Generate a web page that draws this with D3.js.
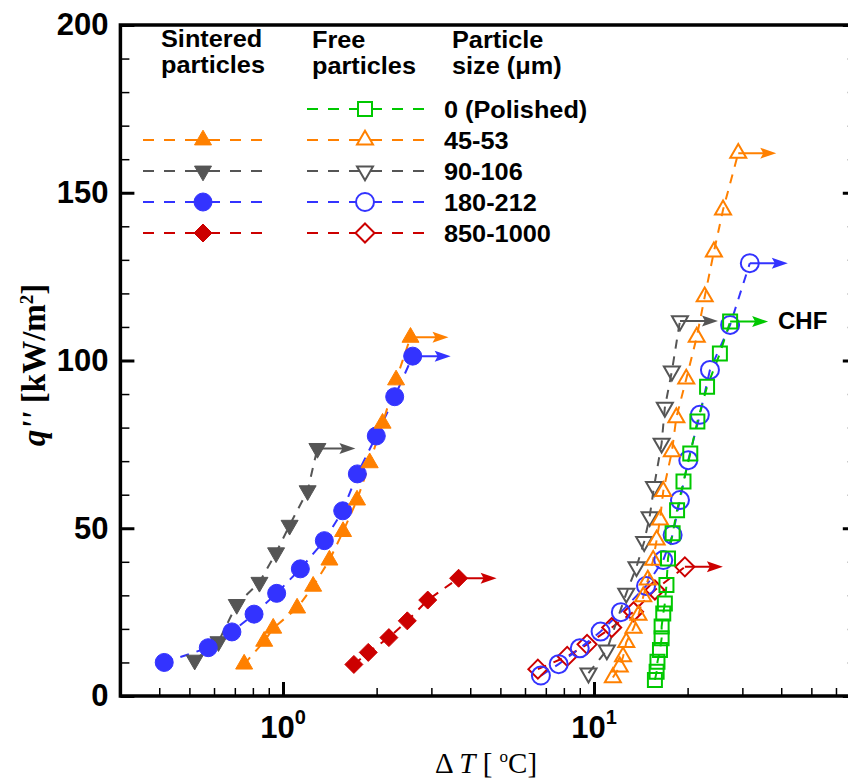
<!DOCTYPE html>
<html><head><meta charset="utf-8">
<script src="https://cdn.jsdelivr.net/npm/d3@7"></script>
<style>body{margin:0;background:#fff}</style>
</head><body>
<svg id="c" width="848" height="782"></svg>
<script>
// ---------- DATA ----------
const sizeLabels = ["0 (Polished)", "45-53", "90-106", "180-212", "850-1000"];
const yTicks = [0, 50, 100, 150, 200];
const xMajorTicks = [1, 10];

// Sintered particles (filled symbols): [ΔT (°C), q'' (kW/m²)]
const sinteredOrange = [[0.75,9.5],[0.87,16.3],[0.93,20.2],[1.11,26.2],[1.25,32.7],[1.41,40.5],[1.56,49.0],[1.73,58.4],[1.90,69.5],[2.09,81.3],[2.31,94.2],[2.57,106.9]];
const sinteredGray   = [[0.52,10.7],[0.62,16.2],[0.71,27.3],[0.84,33.9],[0.95,42.7],[1.05,50.9],[1.20,61.2],[1.29,73.8]];
const sinteredBlue   = [[0.415,10.0],[0.575,14.4],[0.685,19.1],[0.807,24.4],[0.954,30.6],[1.137,37.9],[1.358,46.3],[1.556,55.2],[1.734,66.2],[1.995,77.5],[2.286,89.2],[2.612,101.3]];
const sinteredRed    = [[1.69,9.4],[1.88,13.0],[2.19,17.4],[2.51,22.4],[2.92,28.6],[3.67,35.1]];

// Free particles (open symbols)
const freeGreen  = [[15.7,4.8],[15.9,7.2],[16.0,10.2],[16.3,13.7],[16.5,17.2],[16.5,20.7],[16.7,24.6],[16.9,27.6],[17.1,33.1],[17.3,41.0],[17.9,48.5],[18.5,55.4],[19.4,63.9],[20.4,72.3],[21.5,81.8],[23.1,92.2],[25.4,102.1],[27.4,111.6]];
const freeOrange = [[11.5,5.5],[12.1,8.7],[12.4,11.7],[12.7,16.0],[13.4,20.2],[13.9,24.1],[14.4,29.6],[14.9,34.6],[15.5,40.5],[15.9,46.5],[16.3,52.5],[16.7,61.0],[17.8,72.8],[18.4,83.0],[19.8,94.5],[21.4,107.0],[22.7,119.0],[24.3,132.4],[26.0,144.9],[29.1,161.8]];
const freeGray   = [[9.6,6.8],[11.0,13.7],[12.7,30.6],[13.7,38.5],[14.5,46.0],[15.1,53.4],[15.6,62.4],[16.5,75.3],[16.9,86.0],[17.8,96.8],[18.9,111.8]];
const freeBlue   = [[6.75,6.1],[7.7,9.5],[9.0,14.2],[10.5,19.2],[12.2,25.0],[14.7,32.8],[16.7,40.5],[17.9,48.0],[18.9,58.4],[20.1,70.3],[21.9,83.8],[23.6,97.2],[27.4,110.6],[31.7,129.0]];
const freeRed    = [[6.6,8.0],[8.2,11.8],[9.5,15.4],[11.4,20.4],[13.4,25.1],[15.7,31.6],[19.6,38.5]];

// ---------- STYLE ----------
const C = {orange:"#ff8000", gray:"#555555", blue:"#3333ff", red:"#cc0000", green:"#00c800"};
const series = [
  {data: sinteredGray,   color: C.gray,   shape: "tdown", filled: true},
  {data: sinteredBlue,   color: C.blue,   shape: "circle", filled: true},
  {data: sinteredOrange, color: C.orange, shape: "tup",   filled: true},
  {data: sinteredRed,    color: C.red,    shape: "diamond", filled: true},
  {data: freeRed,        color: C.red,    shape: "diamond", filled: false},
  {data: freeBlue,       color: C.blue,   shape: "circle", filled: false},
  {data: freeGray,       color: C.gray,   shape: "tdown", filled: false},
  {data: freeOrange,     color: C.orange, shape: "tup",   filled: false},
  {data: freeGreen,      color: C.green,  shape: "square", filled: false}
];

const svg = d3.select("#c");
const x = d3.scaleLog().domain([0.3, 70]).range([120.4, 856.8]);
const y = d3.scaleLinear().domain([0, 200]).range([696, 25]);

function symbolPath(shape, filled) {
  switch (shape) {
    case "circle": { const r = 9; return `M${r},0A${r},${r},0,1,1,${-r},0A${r},${r},0,1,1,${r},0Z`; }
    case "tup":   { const s = filled ? 17 : 16, h = s*Math.sqrt(3)/2; return `M0,${-2*h/3}L${s/2},${h/3}L${-s/2},${h/3}Z`; }
    case "tdown": { const s = filled ? 17 : 16, h = s*Math.sqrt(3)/2; return `M0,${2*h/3}L${s/2},${-h/3}L${-s/2},${-h/3}Z`; }
    case "diamond": { const r = filled ? 9 : 9.5; return `M0,${-r}L${r},0L0,${r}L${-r},0Z`; }
    case "square": { const r = 7; return `M${-r},${-r}H${r}V${r}H${-r}Z`; }
  }
}

// ---------- AXES ----------
const axG = svg.append("g");
const minorX = [];
[0.1, 1, 10].forEach(dec => { for (let k = 2; k <= 9; k++) { const v = k*dec; if (v >= 0.3 && v <= 70 && v !== 1 && v !== 10) minorX.push(+v.toFixed(3)); } });
const minorY = d3.range(0, 201, 10).filter(v => v % 50 !== 0);

function styleAxis(g, w) { g.select(".domain").remove(); g.selectAll(".tick line").attr("stroke", "#000").attr("stroke-width", w); }

axG.append("g").attr("transform", `translate(0,${y(0)})`)
  .call(d3.axisBottom(x).tickValues(minorX).tickSize(-8).tickFormat(""))
  .call(g => styleAxis(g, 1.5));
axG.append("g").attr("transform", `translate(0,${y(0)})`)
  .call(d3.axisBottom(x).tickValues(xMajorTicks).tickSize(-14).tickFormat(""))
  .call(g => styleAxis(g, 3));
axG.append("g").attr("transform", `translate(${x(0.3)},0)`)
  .call(d3.axisLeft(y).tickValues(minorY).tickSize(-9).tickFormat(""))
  .call(g => styleAxis(g, 1.5));
const yMaj = axG.append("g").attr("transform", `translate(${x(0.3)},0)`)
  .call(d3.axisLeft(y).tickValues(yTicks).tickSize(-14).tickPadding(12))
  .call(g => styleAxis(g, 3));
yMaj.selectAll("text").attr("font-family", "Liberation Sans, Arial, sans-serif")
  .attr("font-weight", "bold").attr("font-size", 31).attr("fill", "#000");
axG.append("g").attr("transform", `translate(${x(70)},0)`)
  .call(d3.axisRight(y).tickValues(minorY).tickSize(-9).tickFormat(""))
  .call(g => styleAxis(g, 1.5));
axG.append("g").attr("transform", `translate(${x(70)},0)`)
  .call(d3.axisRight(y).tickValues(yTicks).tickSize(-14).tickFormat(""))
  .call(g => styleAxis(g, 3));

// frame
svg.append("path").attr("d", `M${x(0.3)},${y(200)}V${y(0)}H${x(70)}V${y(200)}Z`)
  .attr("fill", "none").attr("stroke", "#000").attr("stroke-width", 3.5);

// x tick labels with superscripts
xMajorTicks.forEach(v => {
  const t = svg.append("text").attr("x", x(v)).attr("y", 738).attr("text-anchor", "middle")
    .attr("font-family", "Liberation Sans, Arial, sans-serif").attr("font-weight", "bold").attr("font-size", 31);
  t.append("tspan").text("10");
  t.append("tspan").attr("dy", -14).attr("font-size", 20).text(Math.round(Math.log10(v)));
});

// axis titles
const xt = svg.append("text").attr("x", 486).attr("y", 773).attr("text-anchor", "middle")
  .attr("font-family", "Liberation Serif, Times New Roman, serif").attr("font-size", 29);
xt.append("tspan").text("Δ ");
xt.append("tspan").attr("font-style", "italic").text("T");
xt.append("tspan").text(" [ ");
xt.append("tspan").attr("dy", -11).attr("font-size", 17).text("o");
xt.append("tspan").attr("dy", 11).text("C]");

const yt = svg.append("text").attr("transform", "translate(45,365) rotate(-90)").attr("text-anchor", "middle")
  .attr("font-family", "Liberation Serif, Times New Roman, serif").attr("font-weight", "bold").attr("font-size", 33);
yt.append("tspan").attr("font-style", "italic").text("q''");
yt.append("tspan").text(" [kW/m");
yt.append("tspan").attr("dy", -12).attr("font-size", 19).text("2");
yt.append("tspan").attr("dy", 12).text("]");

// ---------- SERIES ----------
const line = d3.line().x(d => x(d[0])).y(d => y(d[1]));
const plot = svg.append("g");
const ARROW = 38;
series.forEach(s => {
  plot.append("path").attr("d", line(s.data)).attr("fill", "none").attr("stroke", s.color)
    .attr("stroke-width", 2).attr("stroke-dasharray", "9,8");
});
series.forEach(s => {
  const last = s.data[s.data.length - 1];
  const x0 = x(last[0]), y0 = y(last[1]), x1 = x0 + ARROW;
  plot.append("line").attr("x1", x0).attr("y1", y0).attr("x2", x1 - 6).attr("y2", y0)
    .attr("stroke", s.color).attr("stroke-width", 2);
  plot.append("path").attr("d", `M${x1},${y0}L${x1-16},${y0-5.5}L${x1-13},${y0}L${x1-16},${y0+5.5}Z`)
    .attr("fill", s.color);
  plot.selectAll(null).data(s.data).join("path")
    .attr("transform", d => `translate(${x(d[0])},${y(d[1])})`)
    .attr("d", symbolPath(s.shape, s.filled))
    .attr("fill", s.filled ? s.color : "none")
    .attr("stroke", s.color).attr("stroke-width", s.filled ? 1 : 2);
});

svg.append("text").attr("x", 778).attr("y", 329).attr("font-family", "Liberation Sans, Arial, sans-serif")
  .attr("font-weight", "bold").attr("font-size", 24).text("CHF");

// ---------- LEGEND ----------
function txt(xp, yp, s) {
  return svg.append("text").attr("transform", `translate(${xp},${yp}) scale(1.1,1)`)
    .attr("font-family", "Liberation Sans, Arial, sans-serif").attr("font-weight", "bold")
    .attr("font-size", 23).text(s);
}
txt(161, 47, "Sintered"); txt(161, 73, "particles");
txt(312, 48, "Free"); txt(312, 74, "particles");
txt(452, 48, "Particle"); txt(452, 74, "size (μm)");

const rowY = [109, 140, 171, 202, 233];
const legSintered = [null, series[2], series[0], series[1], series[3]];
const legFree = [series[8], series[7], series[6], series[5], series[4]];
function legendEntry(s, cx, x0, x1, ry) {
  const g = svg.append("g");
  g.append("line").attr("x1", x0).attr("x2", cx - 16).attr("y1", ry).attr("y2", ry)
    .attr("stroke", s.color).attr("stroke-width", 2).attr("stroke-dasharray", "11,10");
  g.append("line").attr("x1", cx - 16).attr("x2", cx + 16).attr("y1", ry).attr("y2", ry)
    .attr("stroke", s.color).attr("stroke-width", 2);
  g.append("line").attr("x1", x1).attr("x2", cx + 16).attr("y1", ry).attr("y2", ry)
    .attr("stroke", s.color).attr("stroke-width", 2).attr("stroke-dasharray", "11,10");
  g.append("path").attr("transform", `translate(${cx},${ry})`).attr("d", symbolPath(s.shape, s.filled))
    .attr("fill", s.filled ? s.color : "#fff").attr("stroke", s.color).attr("stroke-width", s.filled ? 1 : 2);
}
rowY.forEach((ry, i) => {
  if (legSintered[i]) legendEntry(legSintered[i], 203, 143, 262, ry);
  legendEntry(legFree[i], 365, 307, 424, ry);
  txt(444, ry + 8.5, sizeLabels[i]);
});
</script>
</body></html>
